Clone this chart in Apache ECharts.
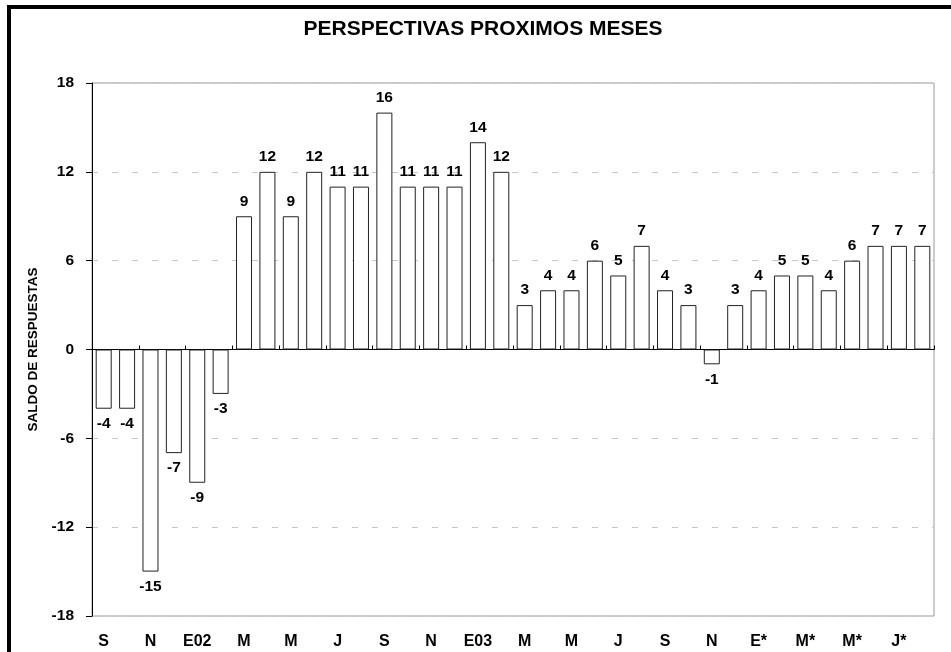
<!DOCTYPE html>
<html>
<head>
<meta charset="utf-8">
<script src="https://cdn.jsdelivr.net/npm/echarts@6/dist/echarts.min.js"></script>
<style>
html,body{margin:0;padding:0;background:#fff;}
#chart{width:951px;height:652px;}
</style>
</head>
<body>
<div id="chart"></div>
<script>
var titleText = 'PERSPECTIVAS PROXIMOS MESES';
var yAxisName = 'SALDO DE RESPUESTAS';
var categories = ['S','O','N','D','E02','F','M','A','M','J','J','A','S','O','N','D','E03','F','M','A','M','J','J','A','S','O','N','D','E*','F*','M*','A*','M*','J*','J*','A*'];
var values = [-4,-4,-15,-7,-9,-3,9,12,9,12,11,11,16,11,11,11,14,12,3,4,4,6,5,7,4,3,-1,3,4,5,5,4,6,7,7,7];
var yMin = -18, yMax = 18, yInterval = 6;

var font = 'Liberation Sans, Arial, sans-serif';
var chart = echarts.init(document.getElementById('chart'));
var barData = values.map(function (v) {
  return { value: v, label: { position: v < 0 ? 'bottom' : 'top' } };
});
chart.setOption({
  animation: false,
  backgroundColor: '#fff',
  graphic: [{
    type: 'rect', silent: true, z: 100,
    shape: { x: 9, y: 7, width: 1200, height: 1200 },
    style: { fill: 'none', stroke: '#000', lineWidth: 4 }
  }],
  title: {
    text: titleText, left: 478, top: 14, textAlign: 'center',
    textStyle: { fontFamily: font, fontSize: 21, fontWeight: 'bold', color: '#000' }
  },
  grid: {
    left: 92, top: 83, right: 17, bottom: 36, show: true,
    borderColor: '#999', borderWidth: 1, backgroundColor: 'transparent'
  },
  xAxis: [{
    type: 'category', data: categories, position: 'bottom',
    axisLine: { show: false, onZero: false },
    axisTick: { show: false },
    axisLabel: { interval: 1, margin: 18, fontFamily: font, fontSize: 16, fontWeight: 'bold', color: '#000' },
    splitLine: { show: false }
  }, {
    type: 'category', data: categories, position: 'top',
    axisLine: { show: true, onZero: true, lineStyle: { color: '#000', width: 1 } },
    axisTick: { show: true, length: 4, lineStyle: { color: '#000' } },
    axisLabel: { show: false },
    splitLine: { show: false }
  }],
  yAxis: {
    type: 'value', min: yMin, max: yMax, interval: yInterval,
    name: yAxisName, nameLocation: 'middle', nameGap: 51, nameRotate: 90,
    nameTextStyle: { fontFamily: font, fontSize: 13.5, fontWeight: 'bold', color: '#000' },
    axisLine: { show: true, lineStyle: { color: '#000' } },
    axisTick: { show: true, length: 6, lineStyle: { color: '#000' } },
    axisLabel: { margin: 18, fontFamily: font, fontSize: 15.5, fontWeight: 'bold', color: '#000' },
    splitLine: { show: true, lineStyle: { color: '#c8c8c8', type: [6, 14] } }
  },
  series: [{
    type: 'bar', xAxisIndex: 0, data: barData, barWidth: 16,
    itemStyle: { color: '#fff', borderColor: '#222', borderWidth: 1 },
    label: { show: true, distance: 7, fontFamily: font, fontSize: 15.5, fontWeight: 'bold', color: '#000' }
  }]
});
</script>
</body>
</html>
